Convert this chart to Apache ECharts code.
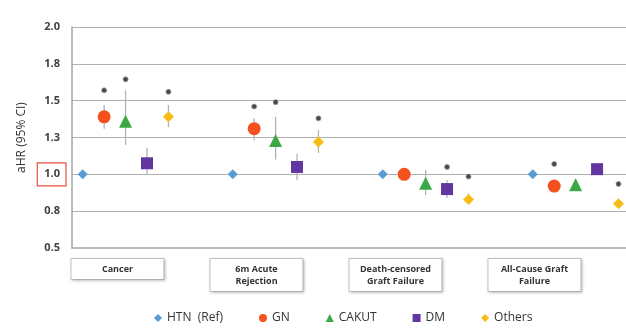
<!DOCTYPE html>
<html>
<head>
<meta charset="utf-8">
<script src="https://cdn.jsdelivr.net/npm/echarts@6/dist/echarts.min.js"></script>
<style>
  html, body { margin: 0; padding: 0; background: #fff; }
  #chart { width: 626px; height: 330px; }
</style>
</head>
<body>
<div id="chart"></div>
<script>
// outcome groups (boxes under the plot)
var groups = ['Cancer', '6m Acute\nRejection', 'Death-censored\nGraft Failure', 'All-Cause Graft\nFailure'];
var yTickLabels = ['0.5', '0.8', '1.0', '1.3', '1.5', '1.8', '2.0'];
var Y_MIN = 0.5, Y_MAX = 2.0, Y_STEP = 0.25;

// aHR point estimates per diagnosis, one value per outcome group
var htnHR = [1.0, 1.0, 1.0, 1.0];
var gnHR = [1.39, 1.31, 1.0, 0.92];
var gnLo = [1.31, 1.23, 0.97, 0.88];
var gnHi = [1.47, 1.38, 1.03, 0.96];
var gnSig = [1.57, 1.46, null, 1.07];

var cakutHR = [1.36, 1.23, 0.94, 0.93];
var cakutLo = [1.20, 1.10, 0.86, 0.89];
var cakutHi = [1.57, 1.39, 1.03, 0.97];
var cakutSig = [1.645, 1.49, null, null];

var dmHR = [1.075, 1.05, 0.90, 1.035];
var dmLo = [0.995, 0.96, 0.84, 1.0];
var dmHi = [1.18, 1.14, 0.96, 1.07];
var dmSig = [null, null, 1.05, null];

var othersHR = [1.39, 1.22, 0.83, 0.80];
var othersLo = [1.32, 1.145, 0.81, 0.77];
var othersHi = [1.47, 1.30, 0.87, 0.83];
var othersSig = [1.56, 1.38, 0.985, 0.935];

var names = ['HTN  (Ref)', 'GN', 'CAKUT', 'DM', 'Others'];
var colors = ['#5b9bd5', '#f4511e', '#3aa845', '#6236a0', '#f7bd16'];
var symbols = ['diamond', 'circle', 'triangle', 'rect', 'diamond'];
var sizes = [10, 13, 13, 12, 11];

var SLOTS = 7; // 5 markers + 2 gap slots per group
function slot(g, i) { return g * SLOTS + i; }

function points(arr, i) {
    return arr.map(function (v, g) { return [slot(g, i), v]; });
}
function bars(lo, hi, i) {
    return lo.map(function (v, g) { return [slot(g, i), v, hi[g]]; });
}
function sig(arr, i) {
    var out = [];
    arr.forEach(function (v, g) { if (v != null) out.push([slot(g, i), v]); });
    return out;
}

var hrs = [htnHR, gnHR, cakutHR, dmHR, othersHR];
var los = [null, gnLo, cakutLo, dmLo, othersLo];
var his = [null, gnHi, cakutHi, dmHi, othersHi];
var sigs = [null, gnSig, cakutSig, dmSig, othersSig];

// horizontal reference lines at every tick above the baseline
var gridLines = [];
for (var t = 1; t < yTickLabels.length; t++) gridLines.push({ yAxis: Y_MIN + t * Y_STEP });

var series = [];
// error bars
for (var i = 1; i < 5; i++) {
    series.push({
        name: 'ci' + i,
        type: 'custom',
        xAxisIndex: 0, yAxisIndex: 0,
        z: 1,
        renderItem: function (params, api) {
            var p1 = api.coord([api.value(0), api.value(1)]);
            var p2 = api.coord([api.value(0), api.value(2)]);
            return {
                type: 'line',
                shape: { x1: p1[0], y1: p1[1], x2: p2[0], y2: p2[1] },
                style: { stroke: '#b3b3b3', lineWidth: 1.3 }
            };
        },
        encode: { x: 0, y: [1, 2] },
        data: bars(los[i], his[i], i)
    });
}
// point estimates
for (var j = 0; j < 5; j++) {
    series.push({
        name: names[j],
        type: 'scatter',
        z: 3,
        symbol: symbols[j],
        symbolSize: sizes[j],
        itemStyle: { color: colors[j], opacity: 1 },
        data: points(hrs[j], j)
    });
}
// significance asterisks (also carries the grid lines)
var sigData = [];
for (var k = 1; k < 5; k++) sigData = sigData.concat(sig(sigs[k], k));
series.push({
    name: 'sig',
    type: 'scatter',
    z: 4,
    symbol: 'circle',
    symbolSize: 5,
    itemStyle: { color: '#1a1a1a', borderColor: '#9a9a9a', borderWidth: 1 },
    data: sigData,
    markLine: {
        silent: true,
        symbol: ['none', 'none'],
        label: { show: false },
        z: 0,
        lineStyle: { color: '#b0b0b0', type: 'solid', width: 1 },
        data: gridLines
    }
});

var chart = echarts.init(document.getElementById('chart'));
var option = {
    backgroundColor: '#fff',
    animation: false,
    grid: [
        { left: 72, right: 0, top: 27, bottom: 82 },
        { left: 48, width: 556, top: 256, height: 1 }
    ],
    legend: {
        data: names.map(function (n, i) { return { name: n, icon: symbols[i] }; }),
        bottom: 1,
        left: 149,
        itemWidth: 8,
        itemHeight: 8,
        itemGap: 36,
        textStyle: { fontSize: 12, color: '#333', fontFamily: 'Open Sans' }
    },
    xAxis: [
        {
            type: 'value', gridIndex: 0,
            min: -0.5, max: 25.35,
            axisLine: { show: true, onZero: false, lineStyle: { color: '#a6a6a6', width: 1.5 } },
            axisTick: { show: false },
            axisLabel: { show: false }, splitLine: { show: false }
        },
        {
            type: 'category', gridIndex: 1,
            data: groups,
            axisLine: { show: false }, axisTick: { show: false },
            axisLabel: {
                interval: 0,
                margin: 2,
                verticalAlign: 'top',
                fontSize: 9,
                fontWeight: 'bold',
                fontFamily: 'Open Sans',
                color: '#333',
                lineHeight: 12,
                width: 80,
                align: 'center',
                backgroundColor: '#fff',
                borderColor: '#c4c4c4',
                borderWidth: 1,
                padding: [4, 6],
                shadowColor: 'rgba(0,0,0,0.18)',
                shadowBlur: 3,
                shadowOffsetX: 1,
                shadowOffsetY: 1
            }
        }
    ],
    yAxis: [
        {
            type: 'value', gridIndex: 0,
            min: Y_MIN, max: Y_MAX, interval: Y_STEP,
            name: 'aHR (95% CI)',
            nameLocation: 'middle',
            nameGap: 44,
            nameMoveOverlap: false,
            nameTextStyle: { fontSize: 12, color: '#333', fontFamily: 'Open Sans' },
            axisLine: { show: true, onZero: false, lineStyle: { color: '#a6a6a6', width: 1.5 } },
            axisTick: { show: false },
            axisLabel: {
                margin: 6,
                formatter: function (v, idx) {
                    var t = yTickLabels[idx];
                    return t === '1.0' ? '{box|' + t + '}' : '{n|' + t + '}';
                },
                rich: {
                    n: { fontSize: 11, fontWeight: 'bold', color: '#404040', fontFamily: 'Open Sans', padding: [6, 6, 6, 6] },
                    box: { fontSize: 11, fontWeight: 'bold', color: '#404040', fontFamily: 'Open Sans', padding: [6, 6, 6, 7], borderColor: '#e5503f', borderWidth: 1.2 }
                }
            },
            splitLine: { show: false }
        },
        {
            type: 'value', gridIndex: 1, show: false
        }
    ],
    series: series
};
chart.setOption(option);
</script>
</body>
</html>
